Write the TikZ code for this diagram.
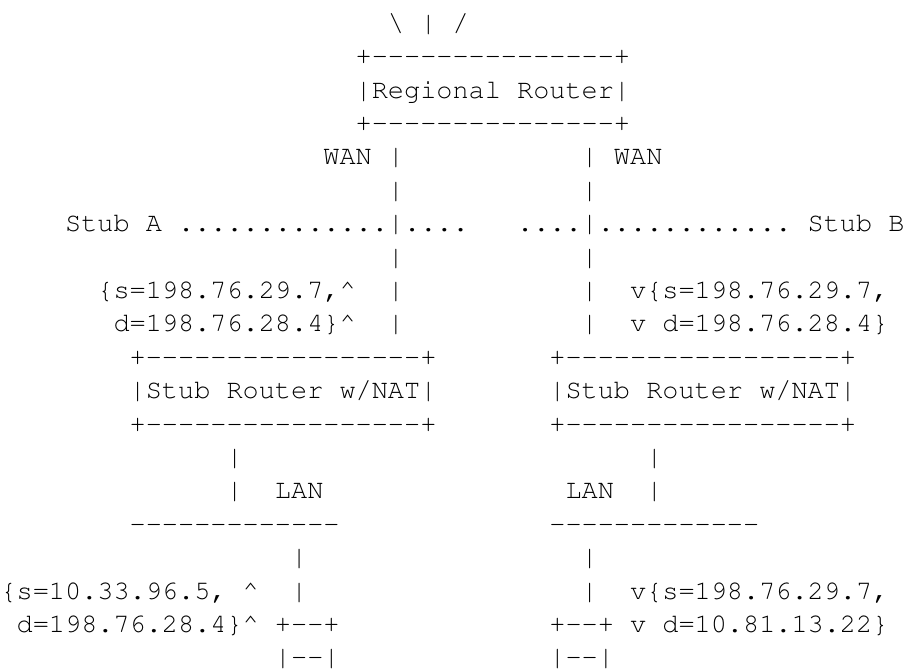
\documentclass[tikz,border=0pt]{standalone}
\usepackage[T1]{fontenc}
\usepackage{courier}
\frenchspacing
\newcommand{\dashrun}[1]{\foreach \i in {1,...,#1}{-}}
\tikzset{
  asc/.style={anchor=base west,inner sep=0pt,font=\fontsize{10pt}{12pt}\selectfont\ttfamily},
}
\begin{document}
\begin{tikzpicture}[x=6pt,y=-12.415pt]
    \useasboundingbox[fill=white] (0pt,11.6pt) rectangle (336pt,-236.7pt);
    % regional router
    \node[asc] (ant) at (24,0) {\textbackslash{} | /};
    \node[asc] (regtop) at (22,1) {+\dashrun{15}+};
    \node[asc] (regional) at (22,2) {|Regional Router|};
    \node[asc] (regbot) at (22,3) {+\dashrun{15}+};
    \node[asc] (wanA) at (20,4) {WAN};
    \node[asc] (wanB) at (38,4) {WAN};
    \foreach \r in {4,...,9}{
    \node[asc] (upA\r) at (24,\r) {|};
    \node[asc] (upB\r) at (36,\r) {|};
    }
    \node[asc] (stubA) at (4,6) {Stub A .............};
    \node[asc] (dotsA) at (25,6) {....};
    \node[asc] (dotsB) at (32,6) {....};
    \node[asc] (stubB) at (37,6) {............ Stub B};
    \node[asc] (outA1) at (6,8) {\{s=198.76.29.7,\textasciicircum};
    \node[asc] (outA2) at (7,9) {d=198.76.28.4\}\textasciicircum};
    \node[asc] (inB1) at (39,8) {v\{s=198.76.29.7,};
    \node[asc] (inB2) at (39,9) {v d=198.76.28.4\}};
    % stub routers
    \foreach \dx/\n in {0/A,26/B}{
    \node[asc] (rtop\n) at (8+\dx,10) {+\dashrun{17}+};
    \node[asc] (rt\n) at (8+\dx,11) {|Stub Router w/NAT|};
    \node[asc] (rbot\n) at (8+\dx,12) {+\dashrun{17}+};
    \node[asc] (lanup\n) at (14+\dx,13) {|};
    \node[asc] (landn\n) at (14+\dx,14) {|};
    \node[asc] (lan\n) at (8+\dx,15) {\dashrun{13}};
    }
    \node[asc] (lanlblA) at (17,14) {LAN};
    \node[asc] (lanlblB) at (35,14) {LAN};
    % hosts
    \foreach \c/\n in {18/A,36/B}{
    \node[asc] (hup\n) at (\c,16) {|};
    \node[asc] (hdn\n) at (\c,17) {|};
    }
    \node[asc] (hostA) at (17,18) {+\dashrun{2}+};
    \node[asc] (baseA) at (17,19) {|\dashrun{2}|};
    \node[asc] (hostB) at (34,18) {+\dashrun{2}+};
    \node[asc] (baseB) at (34,19) {|\dashrun{2}|};
    \node[asc] (srcA1) at (0,17) {\{s=10.33.96.5, \textasciicircum};
    \node[asc] (srcA2) at (1,18) {d=198.76.28.4\}\textasciicircum};
    \node[asc] (dstB1) at (39,17) {v\{s=198.76.29.7,};
    \node[asc] (dstB2) at (39,18) {v d=10.81.13.22\}};
\end{tikzpicture}
\end{document}
